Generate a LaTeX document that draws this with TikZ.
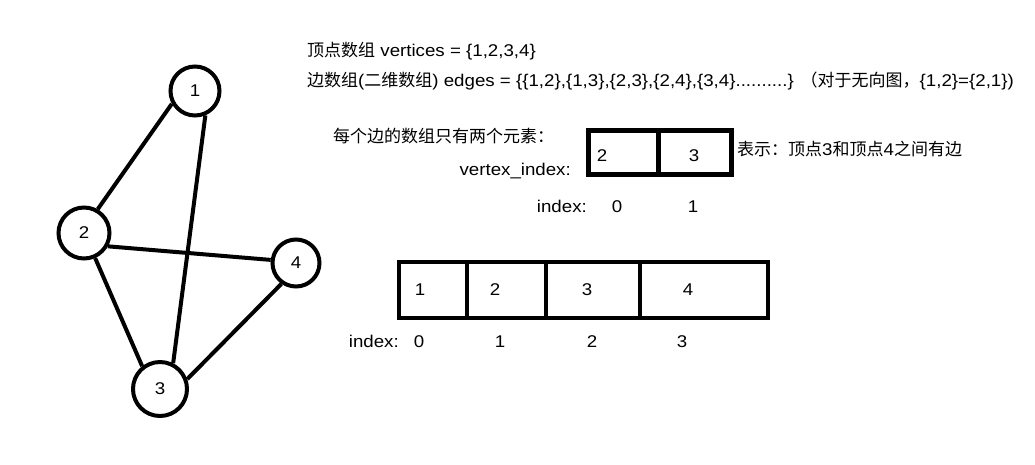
\documentclass[tikz,border=0pt]{standalone}
\usepackage{fontspec}
\setmainfont{Liberation Sans}[FakeStretch=1.1]
\newfontfamily\cjk{Noto Sans CJK SC}

\begin{document}
\begin{tikzpicture}[x=1pt,y=-1pt,
    vertex/.style={draw,circle,line width=4pt,inner sep=0pt,
      font=\fontsize{17}{20}\selectfont},
    edge/.style={line width=4pt},
    txt/.style={anchor=base west,inner sep=0pt,
      font=\fontsize{17}{20}\selectfont},
    num/.style={anchor=base,inner sep=0pt,
      font=\fontsize{17}{20}\selectfont}]

  % canvas
  \useasboundingbox (0,0) rectangle (1035,464);

  % -------- graph --------
  \node[vertex,minimum size=49pt] (v1) at (195,91)  {1};
  \node[vertex,minimum size=51pt] (v2) at (84,233)  {2};
  \node[vertex,minimum size=54pt] (v3) at (160,389) {3};
  \node[vertex,minimum size=47pt] (v4) at (296,263) {4};

  \draw[edge] (v1.-151) -- (v2.60);
  \draw[edge] (v1.-67)  -- (v3.63);
  \draw[edge] (v2.-29)  -- (v4.173);
  \draw[edge] (v2.-66)  -- (v3.128);
  \draw[edge] (v3.20)   -- (v4.-125);

  % -------- description --------
  \node[txt] (vtx) at (307,56) {{\cjk 顶点数组} vertices = \{1,2,3,4\}};
  \node[txt] (edg) at (307,86) {{\cjk 边数组}({\cjk 二维数组}) edges = \{\{1,2\},\{1,3\},\{2,3\},\{2,4\},\{3,4\}..........\} {\cjk （对于无向图，}\{1,2\}=\{2,1\})};
  \node[txt] (each) at (333,142) {\cjk 每个边的数组只有两个元素：};
  \node[txt,anchor=base east] (vidx) at (571,175) {vertex\_index:};
  \node[txt] (mean) at (737,155) {{\cjk 表示：顶点}3{\cjk 和顶点}4{\cjk 之间有边}};

  % -------- one edge --------
  \draw[line width=5pt] (588,130) rectangle (731,174);
  \draw[line width=5pt] (658,130) -- (658,174);
  \node[num] (e0) at (602,161) {2};
  \node[num] (e1) at (694,161) {3};
  \node[txt,anchor=base east] (eidx) at (587,212) {index:};
  \foreach \x/\i in {617/0,693/1} {
    \node[num] (ei\i) at (\x,212) {\i};
  }

  % -------- vertex array --------
  \draw[line width=4pt] (399,262) rectangle (768,318);
  \foreach \x in {467,546,640} {
    \draw[line width=4pt] (\x,262) -- (\x,318);
  }
  \foreach \x/\v in {420/1,495/2,587/3,688/4} {
    \node[num] (a\v) at (\x,295) {\v};
  }
  \node[txt,anchor=base east] (aidx) at (399,347) {index:};
  \foreach \x/\i in {419/0,500/1,592/2,682/3} {
    \node[num] (ai\i) at (\x,347) {\i};
  }

\end{tikzpicture}
\end{document}
